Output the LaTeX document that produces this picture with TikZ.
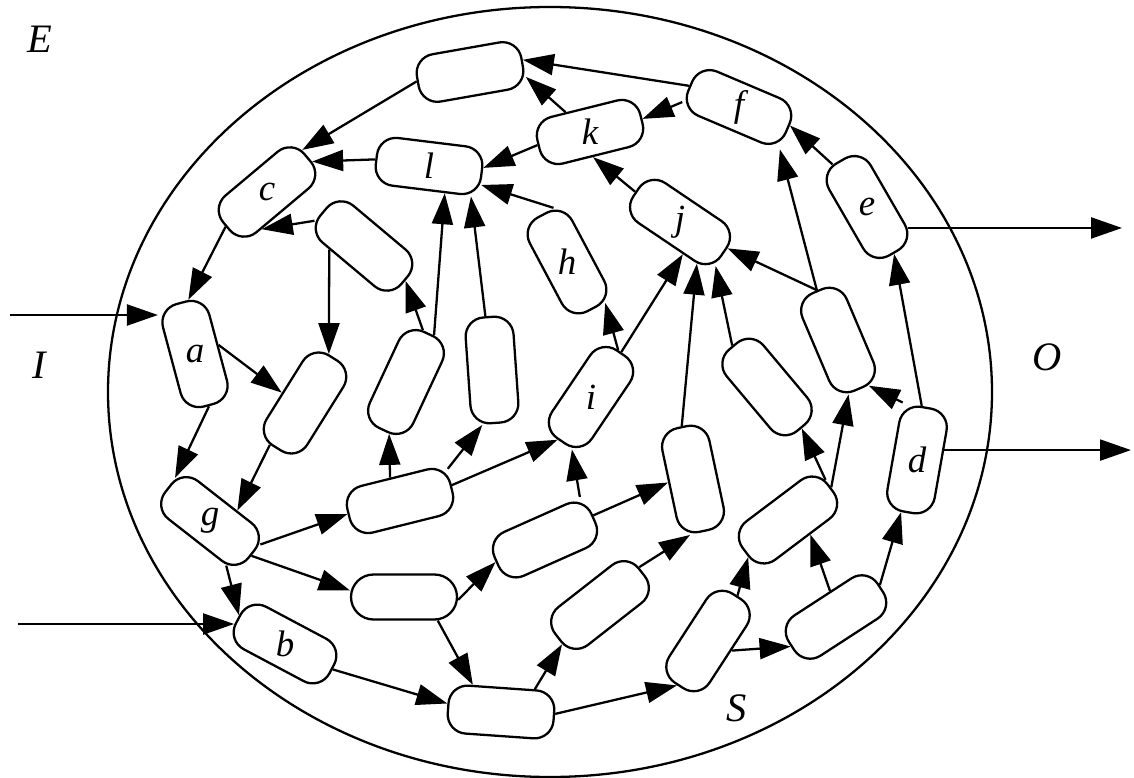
\documentclass[tikz,border=0pt]{standalone}
\usepackage{fontspec}
\setmainfont{Liberation Serif}
\usepackage{tikz}
\usetikzlibrary{arrows.meta,shapes.geometric}
\tikzset{
  cell/.style={draw, line width=1.3pt, rounded corners=0.38cm, minimum width=2.12cm, minimum height=0.96cm, inner sep=0pt},
  pill/.style={cell, rounded corners=0.45cm, minimum height=0.9cm},
  tag/.style={font=\fontsize{21}{24}\selectfont\itshape, inner sep=0pt},
  region/.style={font=\fontsize{23}{26}\selectfont\itshape, inner sep=0pt},
  system/.style={draw, ellipse, line width=1.3pt, minimum width=17.68cm, minimum height=15.4cm, inner sep=0pt},
  arrow/.style={-{Triangle[length=0.62cm,width=0.42cm]}, line width=1.3pt}
}

\begin{document}
\begin{tikzpicture}[x=1cm,y=1cm]
    \useasboundingbox (0,0) rectangle (22.68,-15.56);
    \node[system] (sys) at (11.00,-7.84) {};

    \node[cell, rotate=10] (top) at (9.40,-1.44) {};
    \node[cell, rotate=-23] (f) at (14.78,-2.14) {};
    \node[cell, rotate=14] (k) at (11.80,-2.64) {};
    \node[cell, rotate=-7] (l) at (8.58,-3.32) {};
    \node[cell, rotate=40] (c) at (5.34,-3.84) {};
    \node[cell, rotate=-40] (mid) at (7.28,-4.92) {};
    \node[cell, rotate=-62] (h) at (11.34,-5.24) {};
    \node[cell, rotate=-34] (j) at (13.60,-4.44) {};
    \node[cell, rotate=-60] (e) at (17.34,-4.14) {};
    \node[cell, rotate=-75] (a) at (3.90,-7.08) {};
    \node[cell, rotate=58] (p1) at (6.10,-8.06) {};
    \node[cell, rotate=65] (p2) at (8.12,-7.64) {};
    \node[cell, rotate=-86] (p3) at (9.84,-7.40) {};
    \node[cell, rotate=56] (i) at (11.82,-7.94) {};
    \node[cell, rotate=-78] (q1) at (13.86,-9.58) {};
    \node[cell, rotate=-50] (q2) at (15.34,-7.74) {};
    \node[cell, rotate=-67] (q3) at (16.76,-6.80) {};
    \node[cell, rotate=80] (d) at (18.34,-9.20) {};
    \node[cell, rotate=-38] (g) at (4.20,-10.42) {};
    \node[cell, rotate=-28] (b) at (5.70,-12.88) {};
    \node[cell, rotate=14] (r1) at (8.00,-10.02) {};
    \node[pill] (r2) at (8.08,-11.94) {};
    \node[cell, rotate=24] (r3) at (10.90,-10.80) {};
    \node[cell, rotate=-4] (bot) at (10.02,-14.24) {};
    \node[cell, rotate=38] (n1) at (12.00,-12.10) {};
    \node[cell, rotate=57] (n2) at (14.16,-12.82) {};
    \node[cell, rotate=37] (n3) at (15.76,-10.40) {};
    \node[cell, rotate=33] (n4) at (16.72,-12.34) {};

    \node[tag] (a-t) at (a) {a};
    \node[tag] (b-t) at (b) {b};
    \node[tag] (c-t) at (c) {c};
    \node[tag] (d-t) at (d) {d};
    \node[tag] (e-t) at (e) {e};
    \node[tag] (f-t) at (f) {f};
    \node[tag] (g-t) at (g) {g};
    \node[tag] (h-t) at (h) {h};
    \node[tag] (i-t) at (i) {i};
    \node[tag] (j-t) at (j) {j};
    \node[tag] (k-t) at (k) {k};
    \node[tag] (l-t) at (l) {l};

    \node[region] (env) at (0.80,-0.78) {E};
    \node[region] (inp) at (0.78,-7.30) {I};
    \node[region] (outp) at (20.94,-7.14) {O};
    \node[region] (sysl) at (14.74,-14.16) {S};

    \coordinate (in1) at (0.20,-6.30);
    \coordinate (in2) at (0.36,-12.48);
    \coordinate (out1) at (22.44,-4.54);
    \coordinate (out2) at (22.62,-9.00);

    \draw[arrow] (in1) -- (in1 -| a.-153);
    \draw[arrow] (in2) -- (in2 -| b.-173);
    \draw[arrow] (e.33) -- (e.33 -| out1);
    \draw[arrow] (d.-60) -- (d.-60 -| out2);

    \draw[arrow] (top.180) -- (c.10);
    \draw[arrow] (f.180) -- (top.3);
    \draw[arrow] (k.127) -- (top.-15);
    \draw[arrow] (f.-162) -- (k.0);
    \draw[arrow] (k.180) -- (l.5);
    \draw[arrow] (l.180) -- (c.-6);
    \draw[arrow] (h.166) -- (l.-13);
    \draw[arrow] (p2.-6) -- (l.-53);
    \draw[arrow] (p3.-177) -- (l.-29);
    \draw[arrow] (mid.-167) -- (c.-138);
    \draw[arrow] (mid.-134) -- (p1.6);
    \draw[arrow] (p2.7) -- (mid.0);
    \draw[arrow] (c.180) -- (a.172);
    \draw[arrow] (a.96) -- (p1.98);
    \draw[arrow] (a.0) -- (g.167);
    \draw[arrow] (p1.172) -- (g.59);
    \draw[arrow] (g.13) -- (r1.180);
    \draw[arrow] (g.-2) -- (r2.173);
    \draw[arrow] (g.-32) -- (b.176);
    \draw[arrow] (b.0) -- (bot.175);
    \draw[arrow] (r2.-35) -- (bot.140);
    \draw[arrow] (r2.-3) -- (r3.180);
    \draw[arrow] (r1.99) -- (p2.-173);
    \draw[arrow] (r1.20) -- (p3.-14);
    \draw[arrow] (r1.3) -- (i.176);
    \draw[arrow] (r3.27) -- (i.-166);
    \draw[arrow] (r3.3) -- (q1.-94);
    \draw[arrow] (i.4) -- (h.15);
    \draw[arrow] (i.0) -- (j.-51);
    \draw[arrow] (q1.180) -- (j.-34);
    \draw[arrow] (q2.180) -- (j.-17);
    \draw[arrow] (q3.180) -- (j.5);
    \draw[arrow] (q3.180) -- (f.-23);
    \draw[arrow] (e.-171) -- (f.3);
    \draw[arrow] (d.5) -- (e.0);
    \draw[arrow] (d.24) -- (q3.11);
    \draw[arrow] (n3.0) -- (q3.-12);
    \draw[arrow] (n3.10) -- (q2.0);
    \draw[arrow] (n4.3) -- (d.173);
    \draw[arrow] (n4.70) -- (n3.-70);
    \draw[arrow] (n2.-79) -- (n4.180);
    \draw[arrow] (n2.0) -- (n3.-174);
    \draw[arrow] (bot.2) -- (n2.178);
    \draw[arrow] (bot.38) -- (n1.-172);
    \draw[arrow] (n1.6) -- (q1.-15);
    \draw[arrow] (j.180) -- (k.-97);
  \end{tikzpicture}
\end{document}
